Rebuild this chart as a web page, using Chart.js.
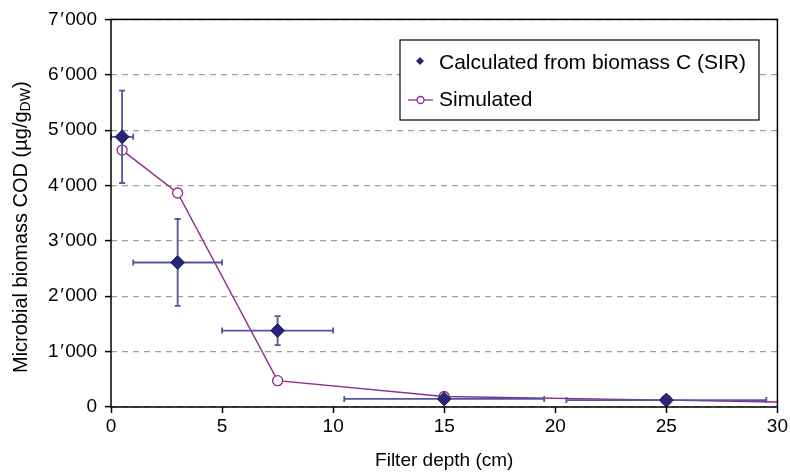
<!DOCTYPE html>
<html>
<head>
<meta charset="utf-8">
<script src="https://cdn.jsdelivr.net/npm/chart.js@4.4.1/dist/chart.umd.min.js"></script>
<style>
  html, body { margin: 0; padding: 0; background: #fff; }
  #wrap { width: 790px; height: 472px; }
</style>
</head>
<body>
<div id="wrap"><canvas id="chart"></canvas></div>
<script>
const calcDepth = [0.5, 3, 7.5, 15, 25];
const calcCod = [4880, 2610, 1380, 145, 125];
const calcCodErr = [835, 785, 262, 0, 0];
const calcDepthErr = [0.5, 2, 2.5, 4.5, 4.5];

const simDepth = [0.5, 3, 7.5, 15, 25, 30];
const simCod = [4640, 3865, 475, 190, 125, 90];

const xTicks = [0, 5, 10, 15, 20, 25, 30];
const yTicks = [0, 1000, 2000, 3000, 4000, 5000, 6000, 7000];

const FONT = '"Liberation Sans", Arial, Helvetica, sans-serif';
const NAVY = '#262672';
const ERR = '#55559a';
const PURPLE = '#8e2b8e';

// frame around the plot area + error bars + y title + legend box
const extras = {
  id: 'extras',
  beforeDatasetDraw(chart, args) {
    // error bars go between the simulated line and the diamonds
    if (args.index !== 0) return;
    const { ctx, scales: { x, y } } = chart;
    ctx.save();
    ctx.strokeStyle = ERR;
    ctx.lineWidth = 1.8;
    calcDepth.forEach((d, i) => {
      const px = x.getPixelForValue(d);
      const py = y.getPixelForValue(calcCod[i]);
      if (calcDepthErr[i]) {
        const x1 = x.getPixelForValue(d - calcDepthErr[i]);
        const x2 = x.getPixelForValue(d + calcDepthErr[i]);
        ctx.beginPath();
        ctx.moveTo(x1, py); ctx.lineTo(x2, py);
        ctx.moveTo(x1, py - 3); ctx.lineTo(x1, py + 3);
        ctx.moveTo(x2, py - 3); ctx.lineTo(x2, py + 3);
        ctx.stroke();
      }
      if (calcCodErr[i]) {
        const y1 = y.getPixelForValue(calcCod[i] - calcCodErr[i]);
        const y2 = y.getPixelForValue(calcCod[i] + calcCodErr[i]);
        ctx.beginPath();
        ctx.moveTo(px, y1); ctx.lineTo(px, y2);
        ctx.moveTo(px - 3, y1); ctx.lineTo(px + 3, y1);
        ctx.moveTo(px - 3, y2); ctx.lineTo(px + 3, y2);
        ctx.stroke();
      }
    });
    ctx.restore();
  },
  afterDraw(chart) {
    const { ctx, chartArea: a } = chart;
    ctx.save();
    // frame
    ctx.strokeStyle = '#000';
    ctx.lineWidth = 1.5;
    ctx.strokeRect(a.left, a.top, a.right - a.left, a.bottom - a.top);

    // y axis title with subscript
    ctx.fillStyle = '#000';
    ctx.translate(21, (a.top + a.bottom) / 2 + 14);
    ctx.rotate(-Math.PI / 2);
    ctx.textBaseline = 'middle';
    ctx.textAlign = 'left';
    const main = 'Microbial biomass COD (µg/g';
    const sub = 'DW';
    const tail = ')';
    ctx.font = '20px ' + FONT;
    const wMain = ctx.measureText(main).width;
    const wTail = ctx.measureText(tail).width;
    ctx.font = '14px ' + FONT;
    const wSub = ctx.measureText(sub).width;
    let sx = -(wMain + wSub + wTail) / 2;
    ctx.font = '20px ' + FONT;
    ctx.fillText(main, sx, 0);
    sx += wMain;
    ctx.font = '14px ' + FONT;
    ctx.fillText(sub, sx, 5);
    sx += wSub;
    ctx.font = '20px ' + FONT;
    ctx.fillText(tail, sx, 0);
    ctx.restore();

    // legend
    ctx.save();
    const lx = 400, ly = 40, lw = 359, lh = 80;
    ctx.fillStyle = '#fff';
    ctx.fillRect(lx, ly, lw, lh);
    ctx.strokeStyle = '#000';
    ctx.lineWidth = 1.2;
    ctx.strokeRect(lx, ly, lw, lh);
    ctx.font = '21px ' + FONT;
    ctx.textBaseline = 'middle';
    const ds = chart.data.datasets;
    // row 1: diamond
    ctx.fillStyle = NAVY;
    ctx.beginPath();
    ctx.moveTo(420, 57); ctx.lineTo(424, 61); ctx.lineTo(420, 65); ctx.lineTo(416, 61);
    ctx.closePath(); ctx.fill();
    ctx.fillStyle = '#000';
    ctx.fillText(ds[0].label, 439, 63);
    // row 2: line + open circle
    ctx.strokeStyle = PURPLE;
    ctx.lineWidth = 1.3;
    ctx.beginPath(); ctx.moveTo(408, 100); ctx.lineTo(433, 100); ctx.stroke();
    ctx.fillStyle = '#fff';
    ctx.beginPath(); ctx.arc(420.5, 100, 3.5, 0, Math.PI * 2); ctx.fill(); ctx.stroke();
    ctx.fillStyle = '#000';
    ctx.fillText(ds[1].label, 439, 100);
    ctx.restore();
  }
};

// 7000 -> 7′000
const fmt = v => {
  const s = String(v);
  return s.length > 3 ? s.slice(0, -3) + '\u200a\u2032\u200a' + s.slice(-3) : s;
};

new Chart(document.getElementById('chart'), {
  type: 'scatter',
  data: {
    datasets: [
      {
        label: 'Calculated from biomass C (SIR)',
        data: calcDepth.map((d, i) => ({ x: d, y: calcCod[i] })),
        pointStyle: 'rectRot',
        pointRadius: 7,
        pointBackgroundColor: NAVY,
        pointBorderColor: NAVY,
        pointBorderWidth: 1,
        showLine: false
      },
      {
        label: 'Simulated',
        data: simDepth.map((d, i) => ({ x: d, y: simCod[i] })),
        showLine: true,
        borderColor: PURPLE,
        borderWidth: 1.4,
        pointStyle: 'circle',
        pointRadius: ctx => (simDepth[ctx.dataIndex] >= xTicks[xTicks.length - 1] ? 0 : 5),
        pointBackgroundColor: '#fff',
        pointBorderColor: PURPLE,
        pointBorderWidth: 1.3
      }
    ]
  },
  options: {
    responsive: true,
    maintainAspectRatio: false,
    animation: false,
    layout: { padding: { top: 19, right: 10, left: 0, bottom: 0 } },
    plugins: {
      legend: { display: false },
      tooltip: { enabled: false }
    },
    scales: {
      x: {
        type: 'linear',
        min: xTicks[0],
        max: xTicks[xTicks.length - 1],
        afterBuildTicks: s => { s.ticks = xTicks.map(v => ({ value: v })); },
        afterFit: s => { s.height = 65; },
        grid: { drawOnChartArea: false, drawTicks: true, tickLength: 6, tickColor: '#000', tickWidth: 1.5 },
        border: { display: false },
        ticks: { color: '#000', font: { family: FONT, size: 19 }, padding: 2, maxRotation: 0 },
        title: { display: true, text: 'Filter depth (cm)', color: '#000', font: { family: FONT, size: 19 }, padding: { top: 4, bottom: 0 } }
      },
      y: {
        type: 'linear',
        min: yTicks[0],
        max: yTicks[yTicks.length - 1],
        afterBuildTicks: s => { s.ticks = yTicks.map(v => ({ value: v })); },
        afterFit: s => { s.width = 111; },
        grid: {
          color: '#a0a0a0',
          lineWidth: 1.2,
          drawTicks: true,
          tickLength: 6,
          tickColor: '#000',
          tickWidth: 1.5,
          tickBorderDash: []
        },
        border: { display: false, dash: [6, 5] },
        ticks: { color: '#000', font: { family: FONT, size: 19 }, padding: 8, callback: fmt }
      }
    }
  },
  plugins: [extras]
});
</script>
</body>
</html>
